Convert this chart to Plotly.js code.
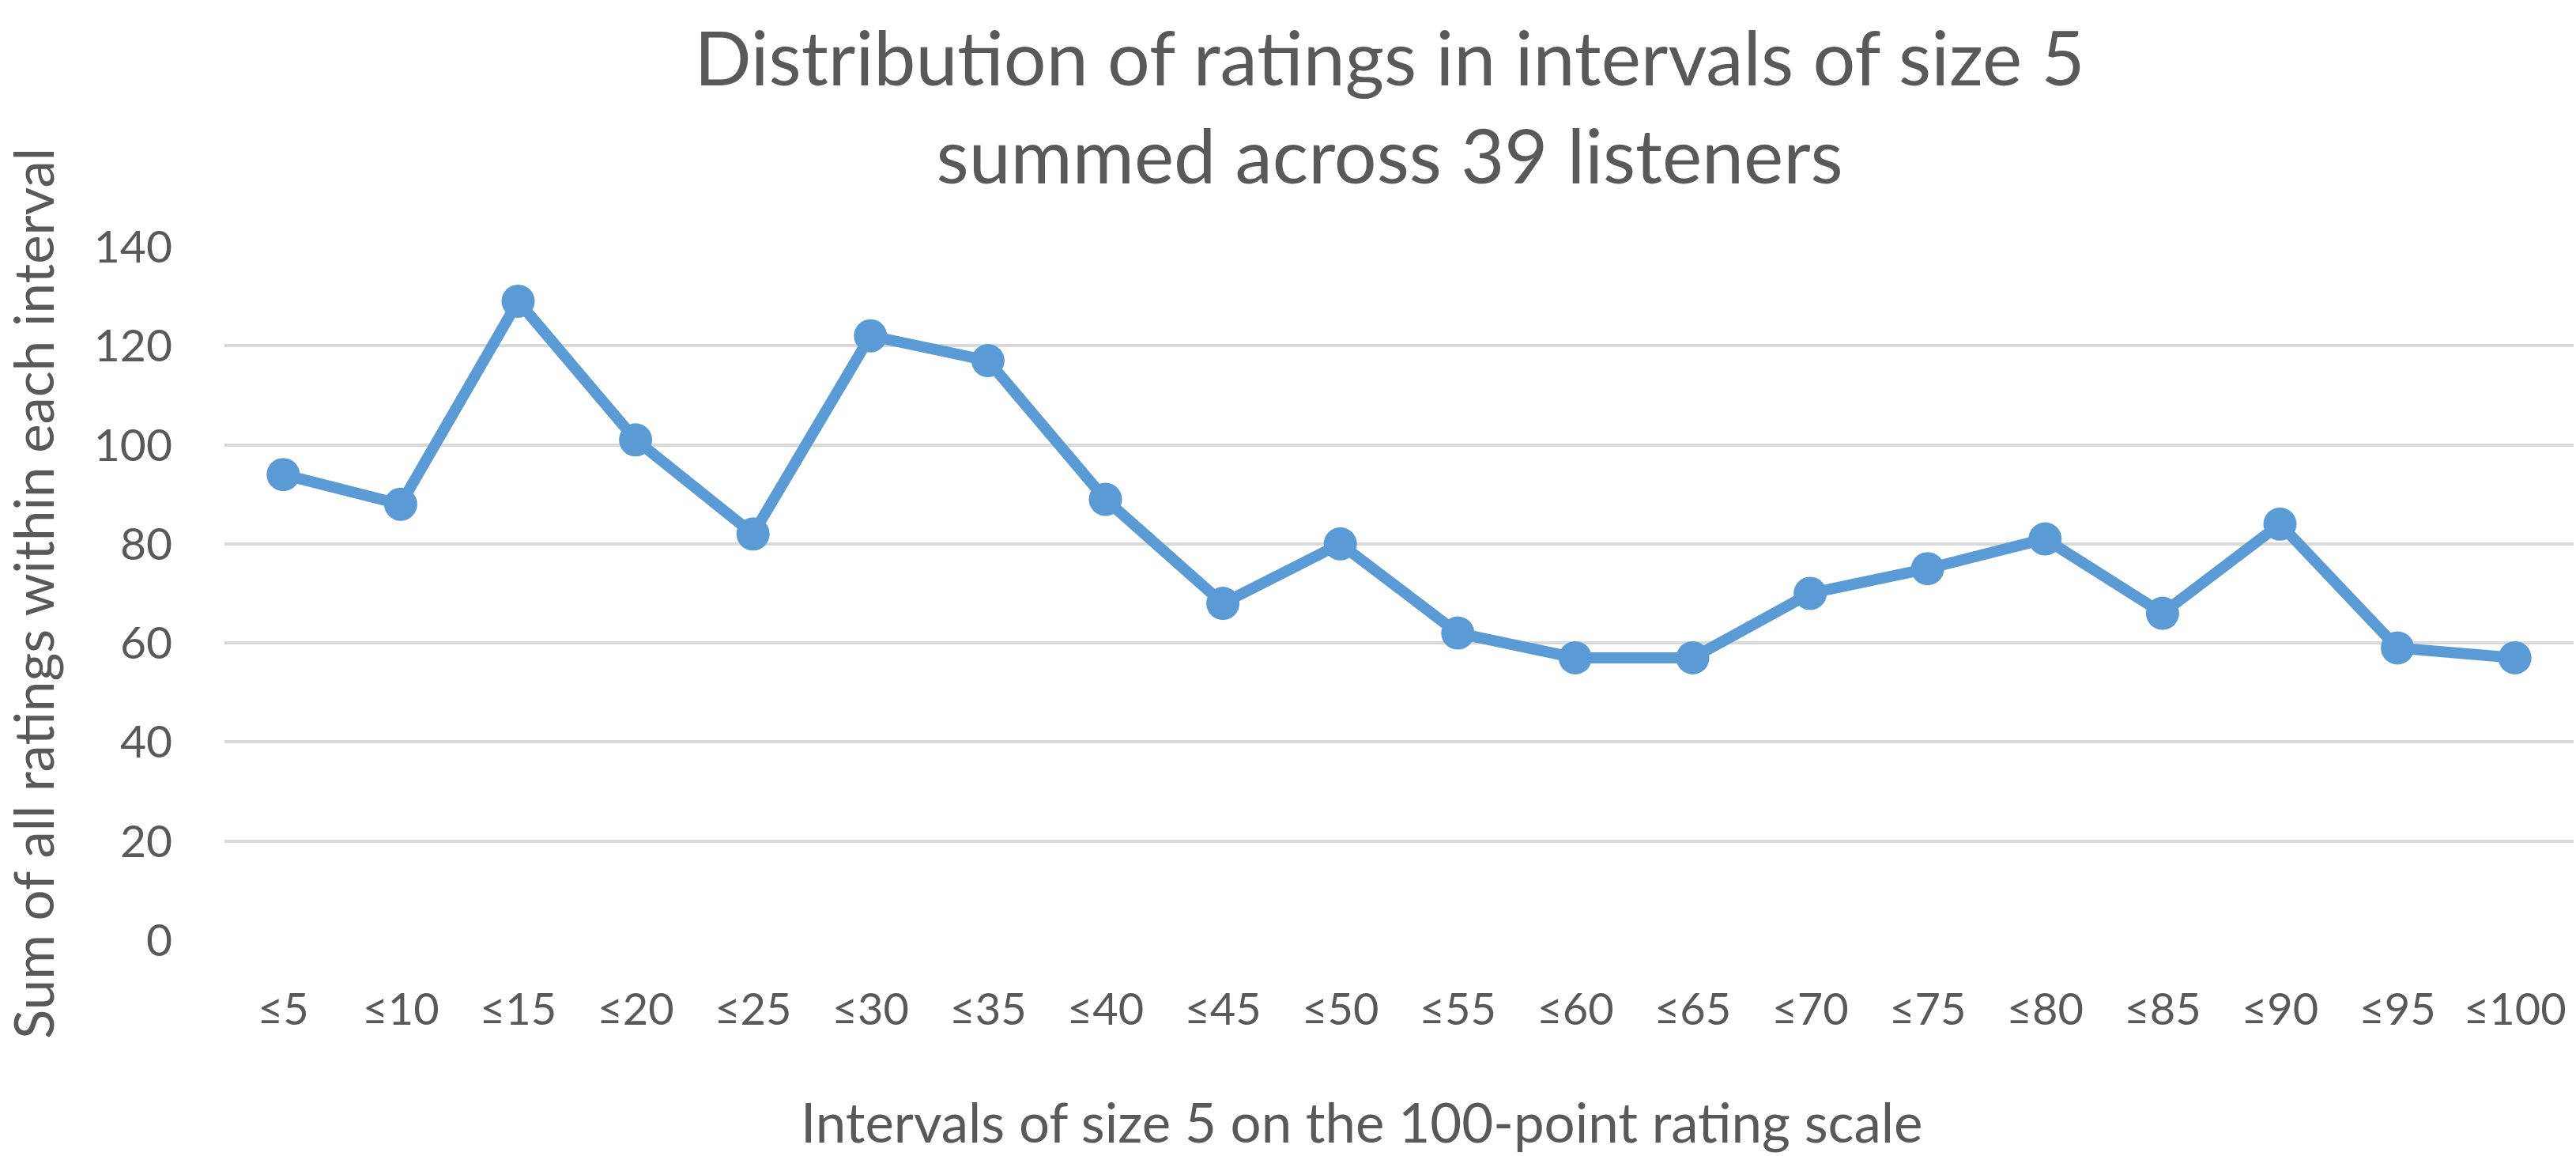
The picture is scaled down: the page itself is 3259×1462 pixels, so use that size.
<!DOCTYPE html>
<html>
<head>
<meta charset="utf-8">
<script src="https://cdn.plot.ly/plotly-3.0.1.min.js"></script>
<style>
  html, body { margin: 0; padding: 0; background: #fff; }
  #chart { width: 3259px; height: 1462px; }
</style>
</head>
<body>
<div id="chart"></div>
<script>
// interval labels on the 100-point scale
const intervals = ['≤5', '≤10', '≤15', '≤20', '≤25', '≤30', '≤35', '≤40', '≤45', '≤50',
                   '≤55', '≤60', '≤65', '≤70', '≤75', '≤80', '≤85', '≤90', '≤95', '≤100'];

// sum of all ratings per interval
const ratingSums = [94, 88, 129, 101, 82, 122, 117, 89, 68, 80,
                    62, 57, 57, 70, 75, 81, 66, 84, 59, 57];

const yTicks = [0, 20, 40, 60, 80, 100, 120, 140];

const textColor = '#595959';
const lineColor = '#5b9bd5';
const font = 'Lato, "Open Sans", sans-serif';

const trace = {
    type: 'scatter',
    mode: 'lines+markers',
    x: intervals,
    y: ratingSums,
    line: { color: lineColor, width: 14 },
    marker: { color: lineColor, size: 42 },
    hoverinfo: 'x+y',
    showlegend: false
};

const layout = {
    width: 3259,
    height: 1462,
    paper_bgcolor: '#ffffff',
    plot_bgcolor: '#ffffff',
    margin: { t: 312, b: 273, l: 284, r: 3 },
    font: { family: font, color: textColor },
    title: {
        text: 'Distribution of ratings in intervals of size 5<br>summed across 39 listeners',
        font: { family: font, size: 95, color: textColor },
        x: 0.496,
        xref: 'paper',
        xanchor: 'center',
        y: 0.926,
        yref: 'container',
        yanchor: 'top'
    },
    xaxis: {
        type: 'category',
        range: [-0.5, intervals.length - 0.5],
        tickfont: { size: 56, color: textColor },
        ticklabelstandoff: 50,
        showgrid: false,
        zeroline: false,
        showline: false,
        ticks: '',
        automargin: false
    },
    yaxis: {
        range: [0, 140],
        tickvals: yTicks,
        tickfont: { size: 57, color: textColor },
        ticklabelstandoff: 65,
        showgrid: true,
        gridcolor: '#d9d9d9',
        gridwidth: 4,
        zeroline: false,
        showline: false,
        ticks: '',
        automargin: false,
        title: {
            text: 'Sum of all ratings within each interval',
            font: { size: 69, color: textColor },
            standoff: 70
        }
    },
    // x axis title placed as Excel does, a little left of the plot centre
    annotations: [{
        text: 'Intervals of size 5 on the 100-point rating scale',
        xref: 'paper', yref: 'paper',
        x: 0.484, y: -0.262,
        xanchor: 'center', yanchor: 'middle',
        showarrow: false,
        font: { size: 69, color: textColor }
    }]
};

Plotly.newPlot('chart', [trace], layout, { displayModeBar: false, staticPlot: true });
</script>
</body>
</html>
